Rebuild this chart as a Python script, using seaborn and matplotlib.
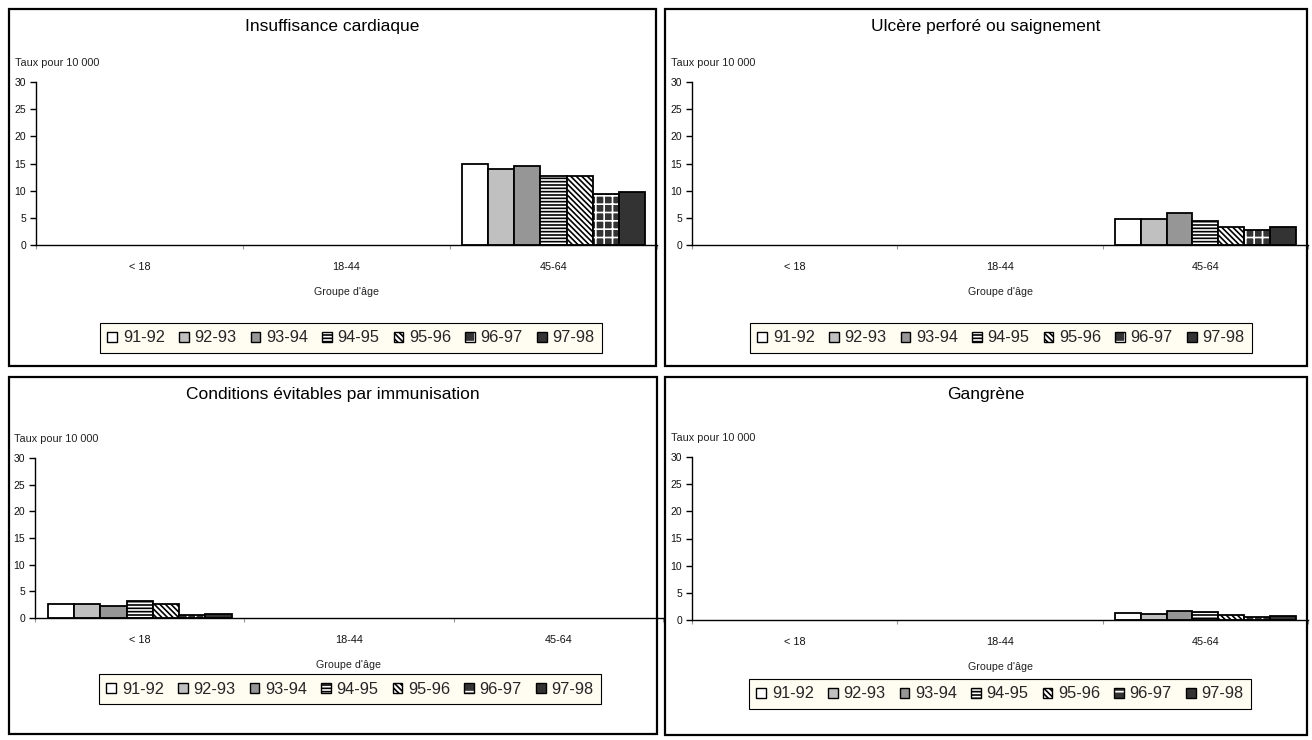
import numpy as np
import pandas as pd
import matplotlib
matplotlib.use("Agg")
import matplotlib.pyplot as plt
import seaborn as sns
from matplotlib.patches import Rectangle, Patch

# ---------------- data ----------------
age_groups = ["< 18", "18-44", "45-64"]
periods = ["91-92", "92-93", "93-94", "94-95", "95-96", "96-97", "97-98"]

titles = ["Insuffisance cardiaque", "Ulcère perforé ou saignement",
          "Conditions évitables par immunisation", "Gangrène"]
data_age = ["45-64", "45-64", "< 18", "45-64"]

insuffisance = [15.0, 13.9, 14.6, 12.7, 12.7, 9.4, 9.8]
ulcere = [4.8, 4.8, 5.9, 4.4, 3.3, 2.8, 3.3]
immunisation = [2.7, 2.6, 2.3, 3.1, 2.6, 0.6, 0.7]
gangrene = [1.2, 1.1, 1.6, 1.5, 1.0, 0.6, 0.7]
series = [insuffisance, ulcere, immunisation, gangrene]

y_label = "Taux pour 10 000"
x_label = "Groupe d'âge"
y_ticks = [0, 5, 10, 15, 20, 25, 30]

# ---------------- style ----------------
sns.set_theme(style="white")
plt.rcParams["font.family"] = ["Liberation Sans", "DejaVu Sans"]
plt.rcParams["hatch.linewidth"] = 1.2

W, H = 1312, 740
fig = plt.figure(figsize=(W / 100, H / 100), dpi=100)
fig.patch.set_facecolor("white")

faces = ["white", "#C0C0C0", "#969696", "white", "white", "#333333", "#333333"]
hatches = [None, None, None, "-----", "\\" * 6, "++", None]
hatch_cols = ["black", "black", "black", "black", "black", "white", "black"]

# layout in pixels: axes (left, right, y0, y30), panel box, title y, legend center
axes_px = [(36, 657, 245, 82), (692, 1308, 245, 82),
           (35, 663, 618, 458), (692, 1308, 620, 457)]
boxes_px = [(9, 9, 656, 366), (665, 9, 1307, 366),
            (9, 377, 657, 734), (665, 377, 1307, 735)]
title_y = [27, 27, 395, 395]
legend_c = [(351, 338), (1001, 338), (350, 689), (1000, 694)]

for i in range(4):
    l, r, y0, y30 = axes_px[i]
    ax = fig.add_axes([l / W, 1 - y0 / H, (r - l) / W, (y0 - y30) / H])
    df = pd.DataFrame({"age": [data_age[i]] * len(periods),
                       "period": periods, "value": series[i]})
    sns.barplot(data=df, x="age", y="value", hue="period", order=age_groups,
                hue_order=periods, palette=dict(zip(periods, faces)),
                width=0.88, errorbar=None, ax=ax, legend=False,
                edgecolor="black", linewidth=1.3, saturation=1)
    for k, cont in enumerate(ax.containers):
        for p in cont.patches:
            if hatches[k]:
                if hatch_cols[k] == "white":
                    p.set_edgecolor("white")
                    p.set_hatch(hatches[k])
                    p.set_linewidth(0)
                    outline = Rectangle(p.get_xy(), p.get_width(), p.get_height(),
                                        fill=False, edgecolor="black", lw=1.3)
                    ax.add_patch(outline)
                else:
                    p.set_hatch(hatches[k])
    ax.set_xlim(-0.5, 2.5)
    ax.set_ylim(0, 30)
    ax.set_yticks(y_ticks)
    ax.set_xticks(range(3))
    ax.set_xticklabels(age_groups)
    ax.set_xticks([-0.5, 0.5, 1.5, 2.5], minor=True)
    for s in ["top", "right"]:
        ax.spines[s].set_visible(False)
    for s in ["left", "bottom"]:
        ax.spines[s].set_color("black")
        ax.spines[s].set_linewidth(1.0)
    ax.tick_params(axis="y", which="major", direction="out", length=4, width=1,
                   color="black", labelsize=7.5, pad=3, left=True, labelcolor="#111111")
    ax.tick_params(axis="x", which="major", length=0, labelsize=7.8, pad=12,
                   labelcolor="#111111")
    ax.tick_params(axis="x", which="minor", direction="out", length=3, width=0.8,
                   color="#999999", bottom=True)
    ax.set_xlabel(x_label, fontsize=7.7, labelpad=11, color="#222222")
    ax.set_ylabel("")
    ax.set_facecolor("white")
    ax.grid(False)

    fig.text((l - 21) / W, 1 - (y30 - 19) / H, y_label, fontsize=7.8,
             ha="left", va="center", color="#222222")

    bx0, by0, bx1, by1 = boxes_px[i]
    fig.add_artist(Rectangle((bx0 / W, 1 - by1 / H), (bx1 - bx0) / W, (by1 - by0) / H,
                             transform=fig.transFigure, fill=False,
                             edgecolor="black", lw=1.6))
    fig.text((bx0 + bx1) / 2 / W, 1 - title_y[i] / H, titles[i], fontsize=12.5,
             ha="center", va="center", color="black")

    handles = []
    for k in range(7):
        if hatch_cols[k] == "white":
            handles.append((Patch(facecolor=faces[k], edgecolor="white", hatch="+", lw=0),
                            Patch(fill=False, edgecolor="black", lw=1.0)))
        else:
            handles.append(Patch(facecolor=faces[k], edgecolor="black",
                                 hatch=hatches[k], lw=1.0))
    cx, cy = legend_c[i]
    leg = fig.legend(handles, periods, loc="center", bbox_to_anchor=(cx / W, 1 - cy / H),
                     ncol=7, fontsize=11.8, frameon=True, fancybox=False,
                     handlelength=0.6, handleheight=0.6, handletextpad=0.35,
                     columnspacing=0.85, borderpad=0.45)
    leg.get_frame().set_facecolor("#FFFCF2")
    leg.get_frame().set_edgecolor("black")
    leg.get_frame().set_linewidth(0.8)
    leg.get_frame().set_alpha(1)

fig.savefig("out.png", dpi=100, facecolor="white")
